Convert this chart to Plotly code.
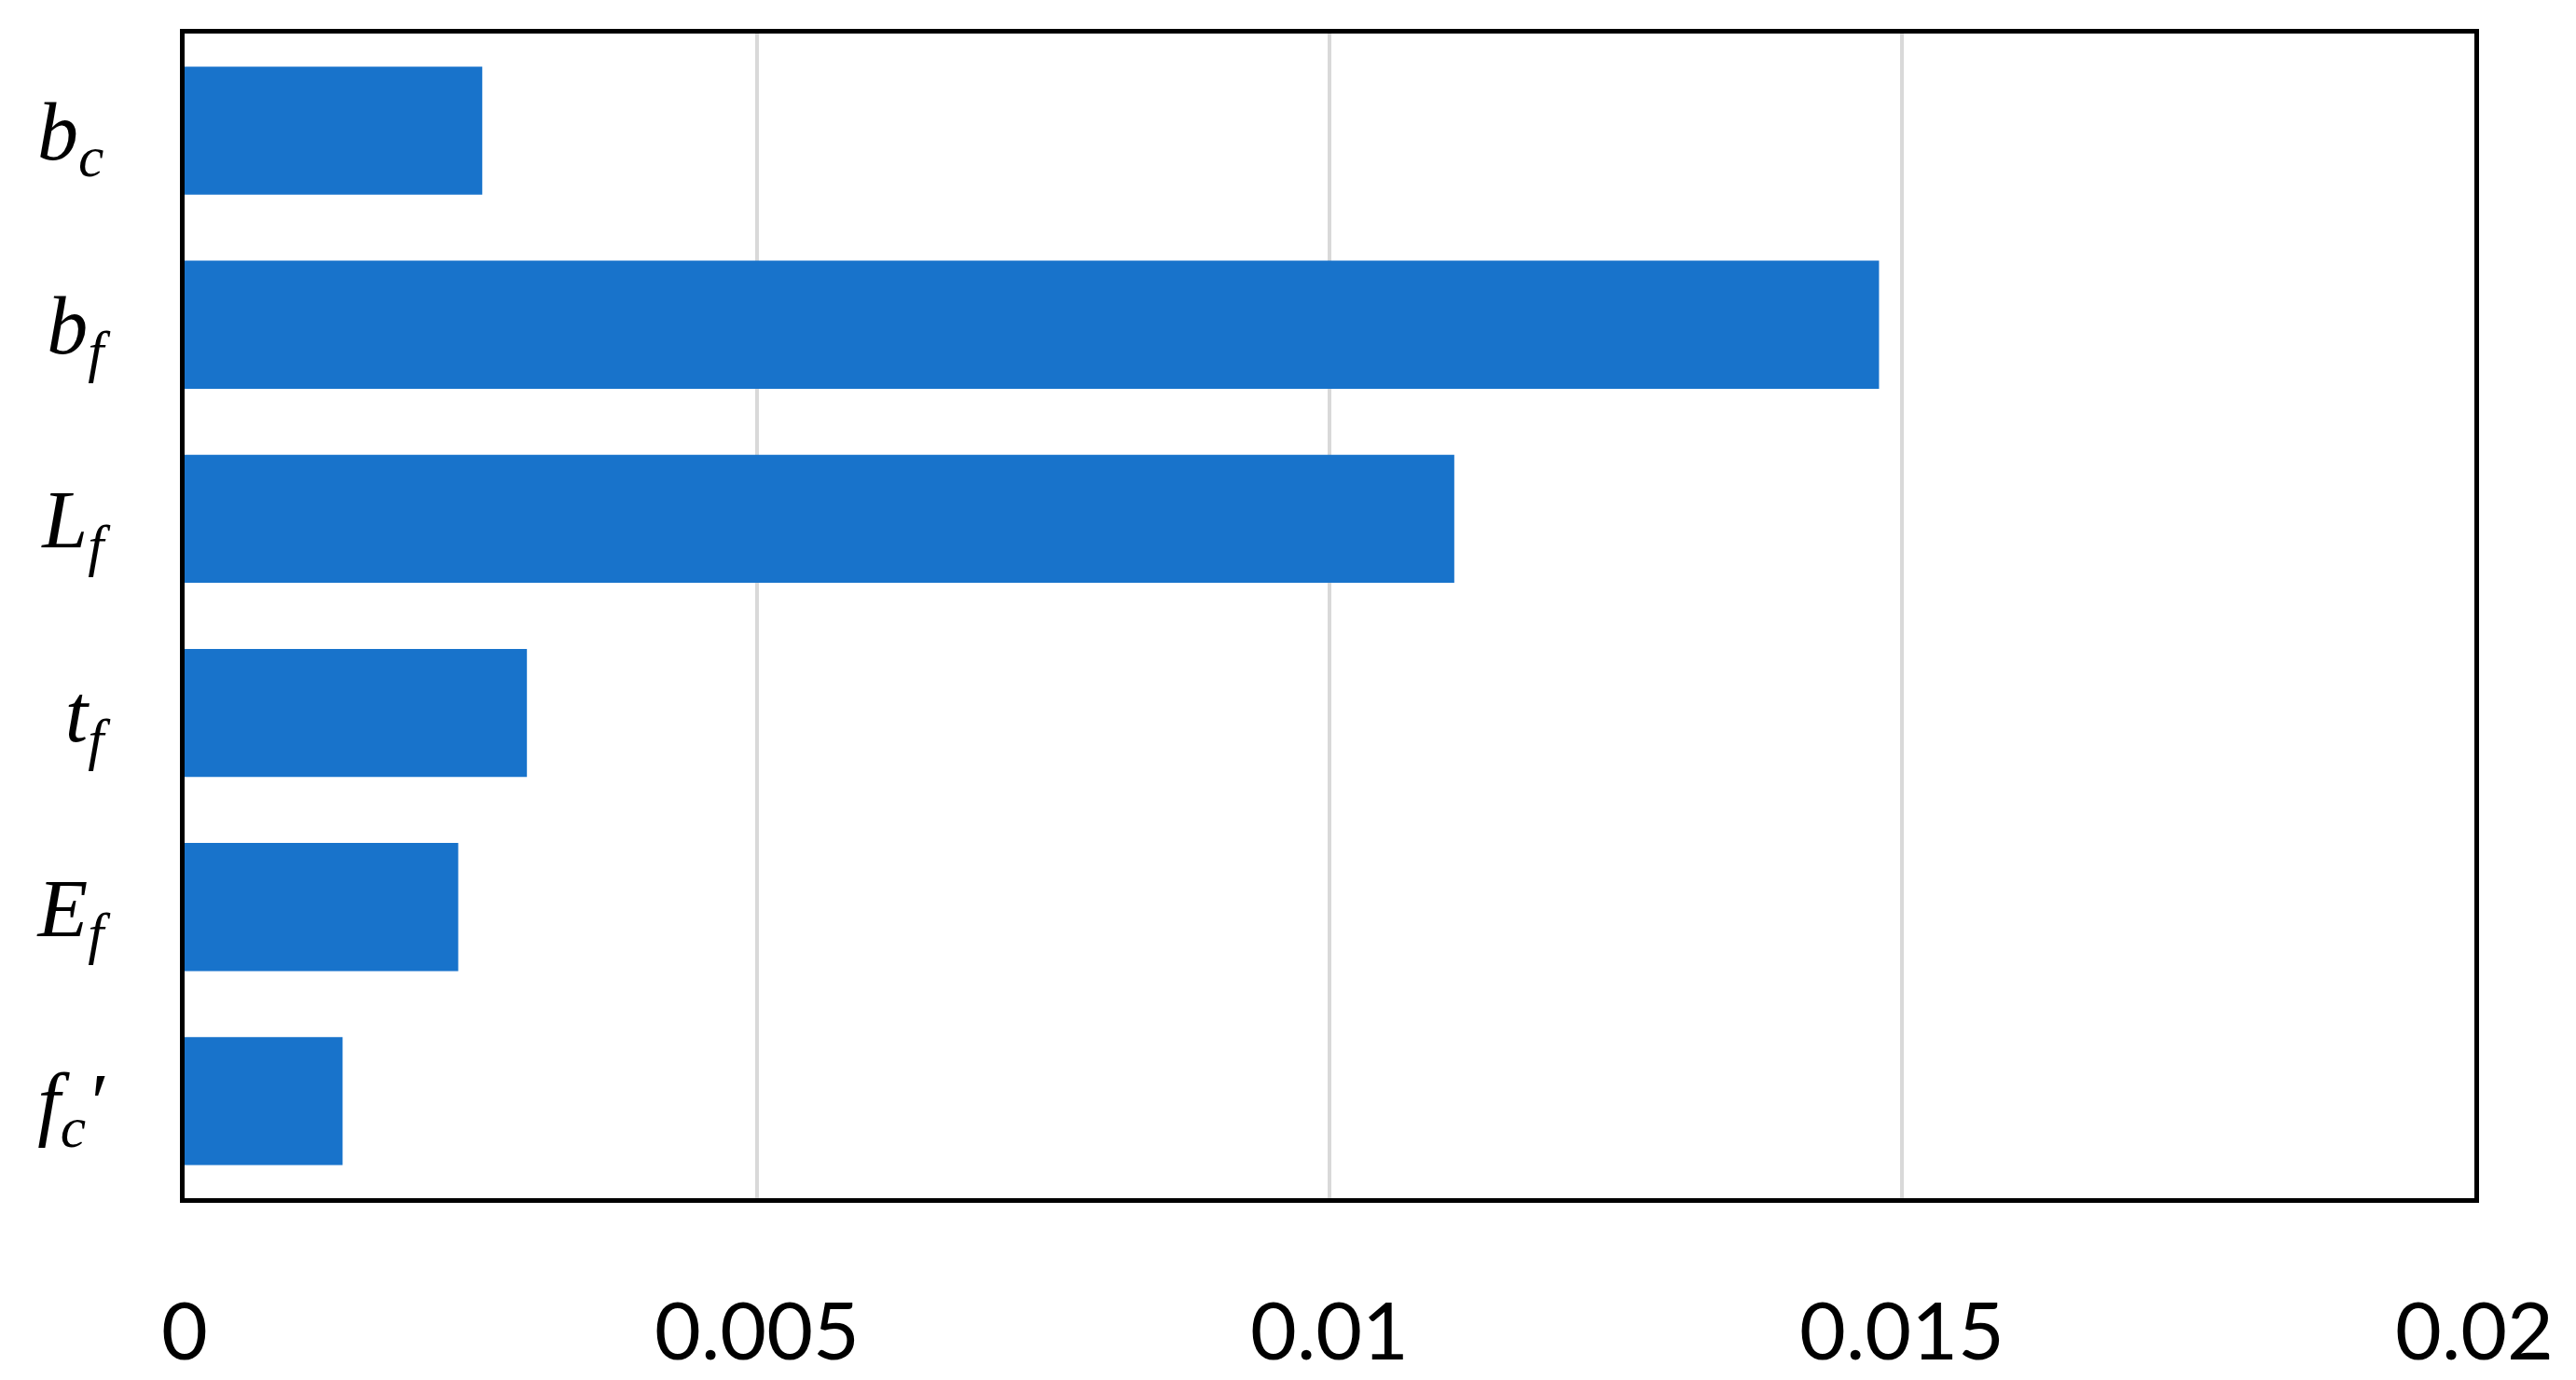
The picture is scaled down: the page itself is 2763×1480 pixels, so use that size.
import plotly.graph_objects as go

categories = [
    "<i>b</i><sub><i>c</i></sub>",
    "<i>b</i><sub><i>f</i></sub>",
    "<i>L</i><sub><i>f</i></sub>",
    "<i>t</i><sub><i>f</i></sub>",
    "<i>E</i><sub><i>f</i></sub>",
    "<i>f</i><sub><i>c</i></sub><i>′</i>",
]
values = [0.0026, 0.0148, 0.01109, 0.00299, 0.00239, 0.00138]
x_ticks = [0, 0.005, 0.01, 0.015, 0.02]
x_ticklabels = ["0", "0.005", "0.01", "0.015", "0.02"]

fig = go.Figure(
    go.Bar(
        x=values,
        y=categories,
        orientation="h",
        marker=dict(color="#1873cb", line=dict(width=0)),
    )
)

fig.update_layout(
    width=2763,
    height=1480,
    margin=dict(l=190, r=117, t=28, b=192),
    paper_bgcolor="white",
    plot_bgcolor="white",
    bargap=0.34,
    showlegend=False,
)

fig.update_xaxes(
    range=[0, 0.02],
    tickvals=x_ticks,
    ticktext=x_ticklabels,
    showgrid=True,
    gridcolor="#d9d9d9",
    gridwidth=4,
    zeroline=False,
    showline=True,
    linecolor="black",
    linewidth=5,
    mirror=True,
    ticks="",
    ticklabelstandoff=65,
    tickfont=dict(family="Lato", size=86, color="black"),
)

fig.update_yaxes(
    autorange="reversed",
    showgrid=False,
    zeroline=False,
    showline=True,
    linecolor="black",
    linewidth=5,
    mirror=True,
    ticks="",
    ticklabelstandoff=64,
    tickfont=dict(family="Liberation Serif", size=88, color="black"),
)

fig.write_html("out.html")
